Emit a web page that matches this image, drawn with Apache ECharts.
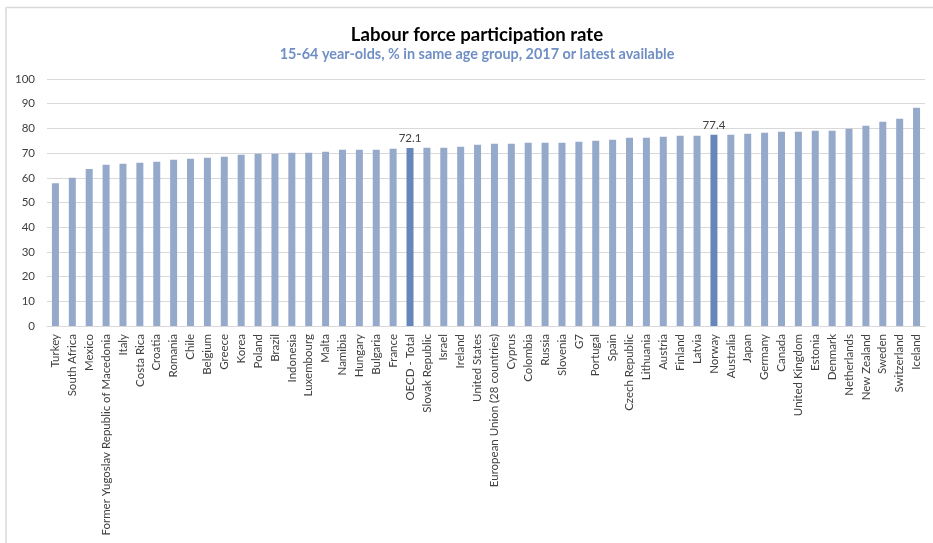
<!DOCTYPE html>
<html><head><meta charset="utf-8">
<script src="https://cdn.jsdelivr.net/npm/echarts@6/dist/echarts.min.js"></script>
<style>html,body{margin:0;padding:0;background:#fff}#c{width:933px;height:543px}</style>
</head><body><div id="c"></div>
<script>
const categories = ["Turkey","South Africa","Mexico","Former Yugoslav Republic of Macedonia","Italy","Costa Rica","Croatia","Romania","Chile","Belgium","Greece","Korea","Poland","Brazil","Indonesia","Luxembourg","Malta","Namibia","Hungary","Bulgaria","France","OECD - Total","Slovak Republic","Israel","Ireland","United States","European Union (28 countries)","Cyprus","Colombia","Russia","Slovenia","G7","Portugal","Spain","Czech Republic","Lithuania","Austria","Finland","Latvia","Norway","Australia","Japan","Germany","Canada","United Kingdom","Estonia","Denmark","Netherlands","New Zealand","Sweden","Switzerland","Iceland"];
const values = [57.8,60.0,63.6,65.3,65.7,66.1,66.5,67.3,67.7,68.1,68.5,69.3,69.7,69.7,70.1,70.1,70.5,71.4,71.4,71.4,71.8,72.1,72.2,72.2,72.6,73.4,73.8,73.8,74.2,74.2,74.2,74.6,75.0,75.4,76.2,76.2,76.6,77.0,77.0,77.4,77.4,77.8,78.2,78.6,78.6,79.0,79.0,79.9,81.1,82.7,83.9,88.4];
const highlighted = ["OECD - Total","Norway"];
const yTicks = {min:0, max:100, interval:10};
const titleText = "Labour force participation rate";
const subtitleText = "15-64 year-olds, % in same age group, 2017 or latest available";

const FONT = "Lato, 'Open Sans', sans-serif";
const chart = echarts.init(document.getElementById('c'), null, {renderer:'canvas'});
const data = values.map((v,i)=>{
  const hl = highlighted.includes(categories[i]);
  return {
    value: v,
    itemStyle: {color: hl ? '#6787BA' : '#95A9CB'},
    label: hl ? {show:true, position:'top', distance:4, formatter:'{c}', color:'#404040', fontSize:11.5, fontFamily:FONT} : {show:false}
  };
});
chart.setOption({
  animation:false,
  backgroundColor:'#fff',
  title:{
    text:titleText, subtext:subtitleText,
    left:472, top:20, textAlign:'center', itemGap:3,
    textStyle:{fontFamily:FONT, fontWeight:'bold', fontSize:18.6, color:'#000'},
    subtextStyle:{fontFamily:FONT, fontWeight:'bold', fontSize:14.4, color:'#6F8FC4'}
  },
  graphic:[
    {type:'line', shape:{x1:6,y1:7.5,x2:933,y2:7.5}, style:{stroke:'#D9D9D9', lineWidth:1.5}},
    {type:'line', shape:{x1:6,y1:7.5,x2:6,y2:543}, style:{stroke:'#D9D9D9', lineWidth:1.5}}
  ],
  grid:{left:47, right:8, top:79, bottom:217, containLabel:false},
  xAxis:{
    type:'category', data:categories,
    axisTick:{show:false},
    axisLine:{show:true, lineStyle:{color:'#D9D9D9', width:1}},
    axisLabel:{rotate:90, interval:0, margin:8, fontSize:11.5, color:'#404040', fontFamily:FONT}
  },
  yAxis:{
    type:'value', min:yTicks.min, max:yTicks.max, interval:yTicks.interval,
    axisLine:{show:false}, axisTick:{show:false},
    axisLabel:{margin:12, fontSize:11.5, color:'#404040', fontFamily:FONT},
    splitLine:{lineStyle:{color:'#D9D9D9', width:1}}
  },
  series:[{type:'bar', data:data, barWidth:7}]
});
</script></body></html>
